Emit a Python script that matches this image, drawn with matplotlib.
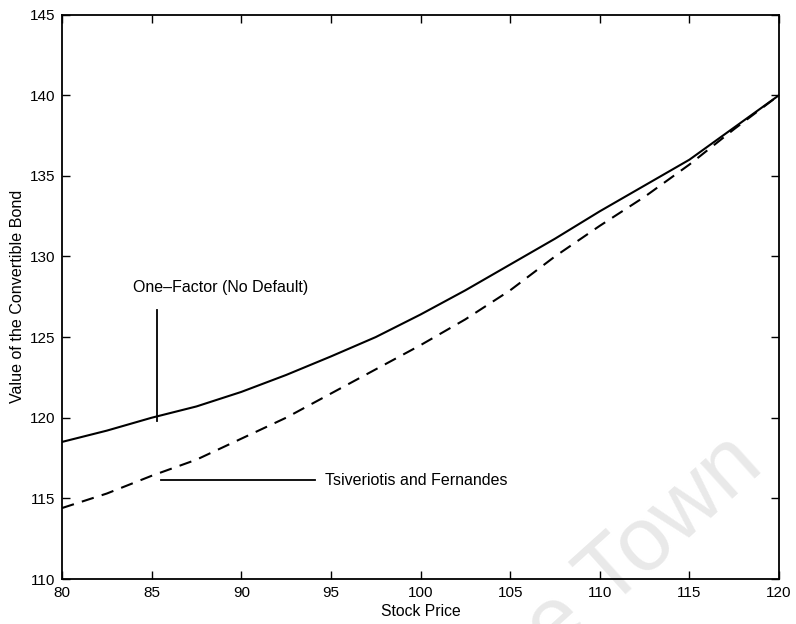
import numpy as np
import matplotlib
matplotlib.use("Agg")
import matplotlib.pyplot as plt

plt.rcParams['font.family'] = ['Liberation Sans', 'DejaVu Sans']

# convertible bond value against stock price, two models
stock = [80, 82.5, 85, 87.5, 90, 92.5, 95, 97.5, 100, 102.5, 105,
         107.5, 110, 112.5, 115, 117.5, 120]
one_factor = [118.5, 119.2, 120.0, 120.7, 121.6, 122.65, 123.8, 125.0, 126.4,
              127.9, 129.5, 131.1, 132.8, 134.4, 136.0, 138.0, 140.0]
tf_model = [114.4, 115.3, 116.4, 117.4, 118.7, 120.0, 121.5, 123.0, 124.5,
            126.1, 127.9, 130.0, 131.9, 133.7, 135.7, 137.9, 140.0]

xticks = np.arange(80, 121, 5)
yticks = np.arange(110, 146, 5)

fig = plt.figure(figsize=(7.96, 6.24), dpi=100)
ax = fig.add_axes([0.0779, 0.0721, 0.9008, 0.9046])
ax.patch.set_visible(False)

ax.plot(stock, one_factor, color='black', lw=1.5)
ax.plot(stock, tf_model, color='black', lw=1.5, linestyle=(0, (6, 4)))

# pointer lines for the curve labels
ax.plot([85.3, 85.3], [119.8, 126.7], color='black', lw=1.3)
ax.plot([85.5, 94.1], [116.13, 116.13], color='black', lw=1.3)
ax.text(83.95, 128.1, 'One\u2013Factor (No Default)', fontsize=11.5,
        va='center', ha='left')
ax.text(94.65, 116.13, 'Tsiveriotis and Fernandes', fontsize=11.5,
        va='center', ha='left')

ax.set_xlim(80, 120)
ax.set_ylim(110, 145)
ax.set_xticks(xticks)
ax.set_yticks(yticks)
ax.tick_params(direction='in', length=6, width=1, top=True, right=True,
               labelsize=11, pad=5)
for s in ax.spines.values():
    s.set_linewidth(1.3)
ax.set_xlabel('Stock Price', fontsize=11.3, labelpad=3)
ax.set_ylabel('Value of the Convertible Bond', fontsize=11.6, labelpad=3)

# faint stamp across the lower right corner
fig.text(0.697, -0.056, 'e Town', fontsize=65, color='#e9e9e9',
         rotation=42, rotation_mode='anchor', ha='left', va='baseline',
         zorder=-1)

fig.savefig('out.png', dpi=100)
